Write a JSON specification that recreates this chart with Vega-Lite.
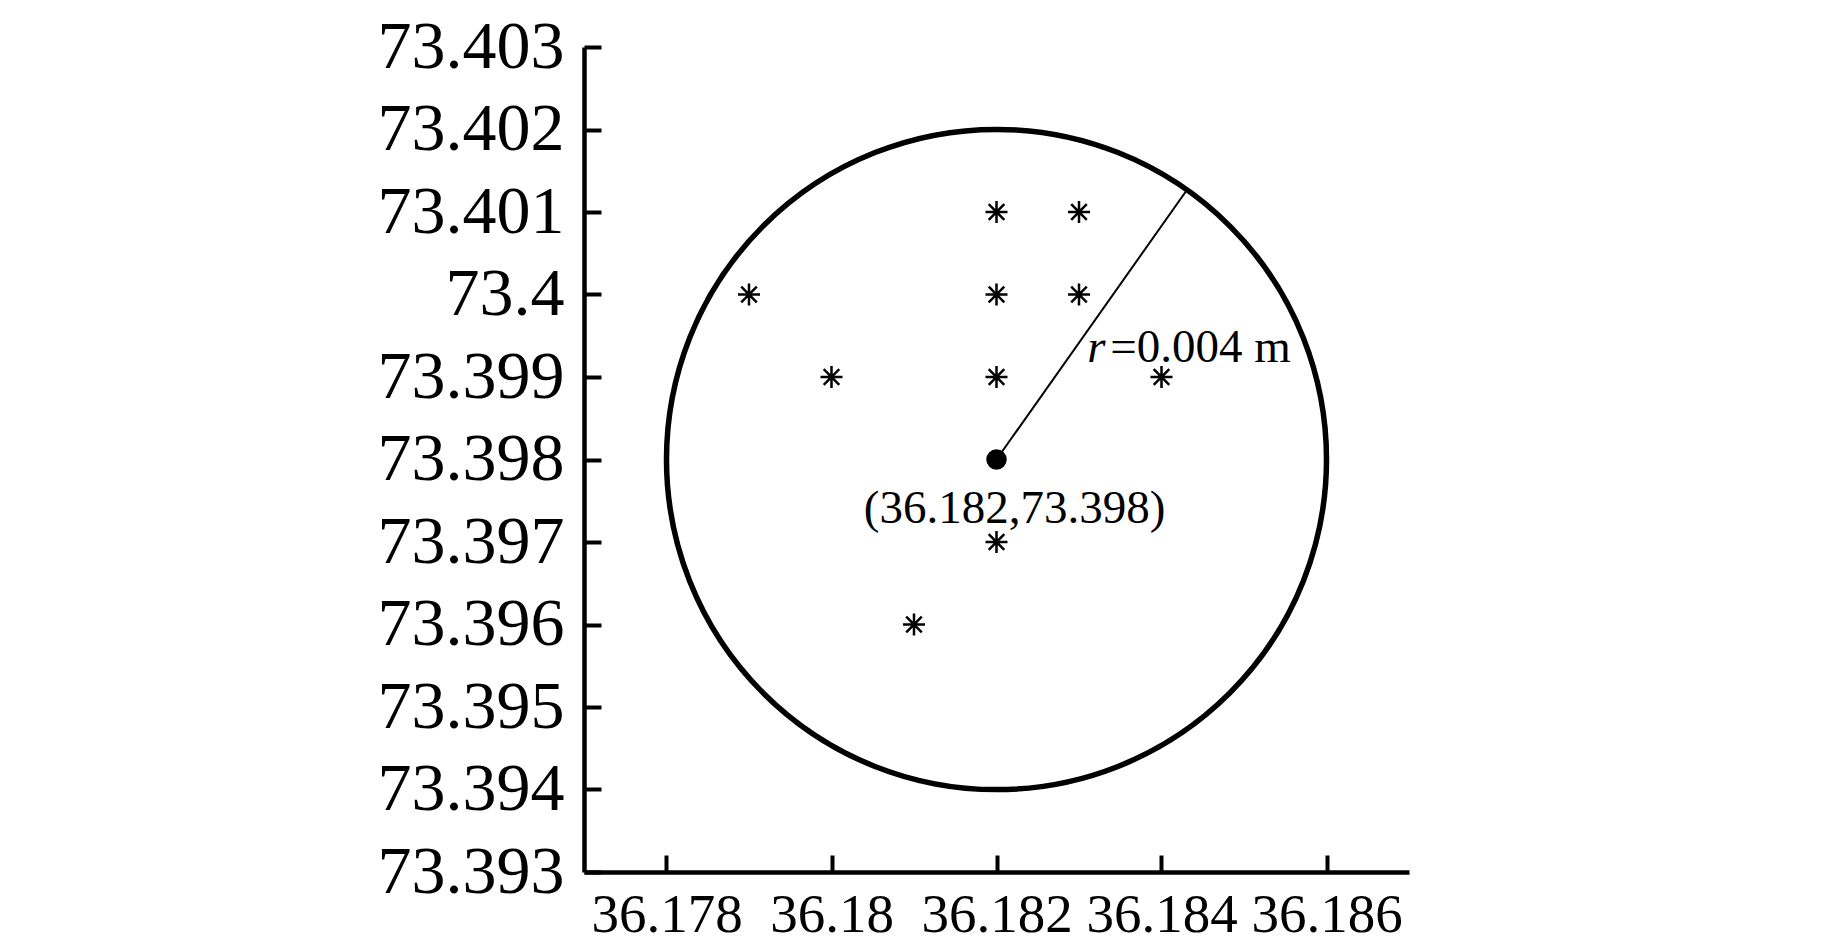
{
  "$schema": "https://vega.github.io/schema/vega-lite/v6.json",
  "width": 825,
  "height": 825,
  "autosize": "none",
  "padding": {"left": 584, "top": 47, "right": 434, "bottom": 73},
  "background": "white",
  "config": {
    "view": {"stroke": null},
    "font": "Liberation Serif",
    "axis": {
      "grid": false,
      "title": null,
      "domainColor": "black",
      "domainWidth": 4.5,
      "tickColor": "black",
      "tickWidth": 4,
      "tickSize": -17,
      "labelColor": "black",
      "labelFont": "Liberation Serif",
      "labelLimit": 0,
      "labelOverlap": false,
      "format": ".3~f"
    }
  },
  "layer": [
    {
      "data": {"values": [{"cx": 36.182, "cy": 73.398}]},
      "mark": {"type": "point", "shape": "circle", "size": 435600, "filled": false, "stroke": "black", "strokeWidth": 5.5, "opacity": 1},
      "encoding": {
        "x": {"field": "cx", "type": "quantitative",
              "scale": {"domain": [36.177, 36.187], "nice": false, "zero": false},
              "axis": {"values": [36.178, 36.18, 36.182, 36.184, 36.186], "labelFontSize": 55, "labelPadding": 33}},
        "y": {"field": "cy", "type": "quantitative",
              "scale": {"domain": [73.393, 73.403], "nice": false, "zero": false},
              "axis": {"values": [73.393, 73.394, 73.395, 73.396, 73.397, 73.398, 73.399, 73.4, 73.401, 73.402, 73.403], "labelFontSize": 68, "labelPadding": 37}}
      }
    },
    {
      "data": {"values": [{"x": 36.182, "y": 73.398, "x2": 36.18431, "y2": 73.40127}]},
      "mark": {"type": "rule", "color": "black", "strokeWidth": 2},
      "encoding": {
        "x": {"field": "x", "type": "quantitative"},
        "y": {"field": "y", "type": "quantitative"},
        "x2": {"field": "x2"},
        "y2": {"field": "y2"}
      }
    },
    {
      "data": {"values": [
        {"x": 36.182, "y": 73.401},
        {"x": 36.183, "y": 73.401},
        {"x": 36.179, "y": 73.4},
        {"x": 36.182, "y": 73.4},
        {"x": 36.183, "y": 73.4},
        {"x": 36.18, "y": 73.399},
        {"x": 36.182, "y": 73.399},
        {"x": 36.184, "y": 73.399},
        {"x": 36.182, "y": 73.397},
        {"x": 36.181, "y": 73.396}
      ]},
      "mark": {"type": "point", "shape": "M0,-1V1M-1,0H1M-0.707,-0.707L0.707,0.707M-0.707,0.707L0.707,-0.707", "size": 484, "filled": false, "stroke": "black", "strokeWidth": 2.5, "opacity": 1},
      "encoding": {
        "x": {"field": "x", "type": "quantitative"},
        "y": {"field": "y", "type": "quantitative"}
      }
    },
    {
      "data": {"values": [{"x": 36.182, "y": 73.398}]},
      "mark": {"type": "point", "shape": "circle", "size": 420, "filled": true, "color": "black", "opacity": 1},
      "encoding": {
        "x": {"field": "x", "type": "quantitative"},
        "y": {"field": "y", "type": "quantitative"}
      }
    },
    {
      "data": {"values": [{"x": 36.18222, "y": 73.39723, "label": "(36.182,73.398)"}]},
      "mark": {"type": "text", "font": "Liberation Serif", "fontSize": 47, "align": "center", "baseline": "alphabetic", "color": "black"},
      "encoding": {
        "x": {"field": "x", "type": "quantitative"},
        "y": {"field": "y", "type": "quantitative"},
        "text": {"field": "label"}
      }
    },
    {
      "data": {"values": [{"x": 36.1831, "y": 73.39918, "label": "r"}]},
      "mark": {"type": "text", "font": "Liberation Serif", "fontSize": 47, "fontStyle": "italic", "align": "left", "baseline": "alphabetic", "color": "black"},
      "encoding": {
        "x": {"field": "x", "type": "quantitative"},
        "y": {"field": "y", "type": "quantitative"},
        "text": {"field": "label"}
      }
    },
    {
      "data": {"values": [{"x": 36.18338, "y": 73.39918, "label": "=0.004 m"}]},
      "mark": {"type": "text", "font": "Liberation Serif", "fontSize": 47, "align": "left", "baseline": "alphabetic", "color": "black"},
      "encoding": {
        "x": {"field": "x", "type": "quantitative"},
        "y": {"field": "y", "type": "quantitative"},
        "text": {"field": "label"}
      }
    }
  ]
}
